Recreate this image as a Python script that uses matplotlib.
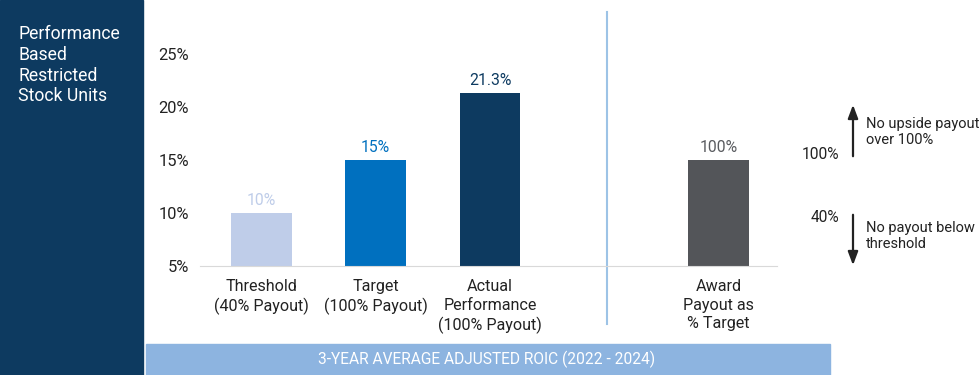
import matplotlib
matplotlib.use("Agg")
import matplotlib.pyplot as plt
from matplotlib.patches import Rectangle

plt.rcParams['font.family'] = ['Roboto', 'DejaVu Sans']

# data
categories = ["Threshold\n(40% Payout)", "Target\n(100% Payout)",
              "Actual\nPerformance\n(100% Payout)", "Award\nPayout as\n% Target"]
positions = [0, 1, 2, 4]
values = [10, 15, 21.3, 15]
value_labels = ["10%", "15%", "21.3%", "100%"]
bar_colors = ["#bfcde9", "#0070bf", "#0d3a60", "#535559"]
label_colors = ["#bfcde9", "#0070bf", "#0d3a60", "#5a5c60"]
yticks = [5, 10, 15, 20, 25]

W, H = 980, 375
fig = plt.figure(figsize=(W / 100, H / 100), dpi=100)

# left navy panel and bottom banner
fig.add_artist(Rectangle((0, 0), 143 / W, 1, transform=fig.transFigure,
                         color="#0d3a60", zorder=0))
fig.add_artist(Rectangle((146 / W, 0), (830 - 146) / W, 31 / H,
                         transform=fig.transFigure, color="#8db4e0", zorder=0))
fig.text(18 / W, 1 - 25 / H, "Performance\nBased\nRestricted\nStock Units",
         color="white", fontsize=12.7, va="top", ha="left", linespacing=1.2)
fig.text(487 / W, 16 / H, "3-YEAR AVERAGE ADJUSTED ROIC (2022 - 2024)",
         color="white", fontsize=11.2, va="center", ha="center")

# main axes
ax = fig.add_axes([200 / W, (H - 266) / H, 577 / W, 254 / H])
ax.bar(positions, values, width=0.533, bottom=0, color=bar_colors, zorder=2)
ax.set_xlim(-0.537, 4.511)
ax.set_ylim(5, 28.96)
for x, v, t, c in zip(positions, values, value_labels, label_colors):
    ax.text(x, v + 0.5, t, ha="center", va="bottom", color=c, fontsize=11.3)

ax.set_yticks(yticks)
ax.set_yticklabels([f"{t}%" for t in yticks], fontsize=11.8, color="#222222")
ax.set_xticks(positions)
ax.set_xticklabels(categories, fontsize=11.6, color="#222222", linespacing=1.3)
ax.tick_params(axis="both", length=0)
ax.tick_params(axis="y", pad=8)
ax.tick_params(axis="x", pad=9.5)
for s in ["top", "right", "left"]:
    ax.spines[s].set_visible(False)
ax.spines["bottom"].set_color("#d9d9d9")
ax.patch.set_alpha(0)

# divider line
ax.axvline(3.026, ymin=-0.228, ymax=1.0, color="#9dc3e6", lw=1.5, clip_on=False)

# payout range annotations
ax.annotate("", xy=(853, H - 102), xytext=(853, H - 159), xycoords="figure pixels",
            textcoords="figure pixels",
            arrowprops=dict(arrowstyle="-|>,head_width=0.3,head_length=0.8",
                            color="#222222", lw=1.6))
ax.annotate("", xy=(853, H - 268), xytext=(853, H - 212), xycoords="figure pixels",
            textcoords="figure pixels",
            arrowprops=dict(arrowstyle="-|>,head_width=0.3,head_length=0.8",
                            color="#222222", lw=1.6))
fig.text(839 / W, 1 - 154 / H, "100%", ha="right", va="center", fontsize=11.2,
         color="#222222")
fig.text(839 / W, 1 - 218 / H, "40%", ha="right", va="center", fontsize=11.2,
         color="#222222")
fig.text(866 / W, 1 - 132 / H, "No upside payout\nover 100%", ha="left",
         va="center", fontsize=10.5, color="#222222", linespacing=1.2)
fig.text(866 / W, 1 - 236 / H, "No payout below\nthreshold", ha="left",
         va="center", fontsize=10.5, color="#222222", linespacing=1.2)

fig.savefig("out.png", dpi=100)
